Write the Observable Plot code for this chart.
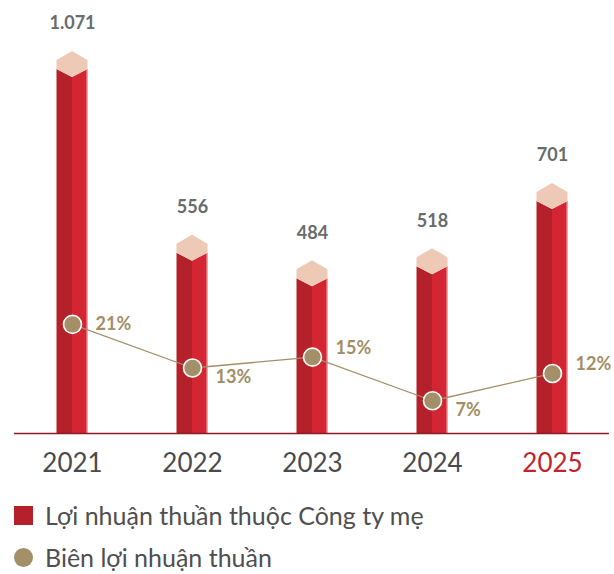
<!DOCTYPE html>
<html>
<head>
<meta charset="utf-8">
<script src="https://cdn.jsdelivr.net/npm/d3@7"></script>
<script src="https://cdn.jsdelivr.net/npm/@observablehq/plot@0.6"></script>
<style>
  html, body { margin: 0; padding: 0; background: #fff; }
  body { width: 614px; font-family: Lato, "Open Sans", sans-serif; }
  .legend { margin-top: 4px; }
  .row { display: flex; align-items: center; height: 42px; font-size: 25px; color: #4f4f4f; }
  .sw { width: 19px; height: 19px; margin-left: 14px; margin-right: 12px; flex: none; }
  .sq { background: #b5212b; }
  .ci { background: #a38f68; border-radius: 50%; }
</style>
</head>
<body>
<div id="chart"></div>
<div class="legend">
  <div class="row"><span class="sw sq"></span><span>Lợi nhuận thuần thuộc Công ty mẹ</span></div>
  <div class="row"><span class="sw ci"></span><span>Biên lợi nhuận thuần</span></div>
</div>
<script>
// ---- data ----
const years = ["2021", "2022", "2023", "2024", "2025"];
const profit = [1071, 556, 484, 518, 701];          // Lợi nhuận thuần thuộc Công ty mẹ
const margin = [21, 13, 15, 7, 12];                  // Biên lợi nhuận thuần (%)
const highlightYear = "2025";

const rows = years.map((y, i) => ({year: y, value: profit[i], margin: margin[i], i}));
const maxVal = d3.max(profit);

// secondary (percent) axis mapped onto the primary value domain
const pctToValue = d3.scaleLinear().domain([1, 71]).range([0, maxVal]);

const viFmt = d3.formatLocale({decimal: ",", thousands: ".", grouping: [3], currency: ["", ""]}).format(",");

const C = {
  left: "#b5212b", right: "#d42533", top: "#eecab6", edge: "#f0b3b8",
  base: "#8b1d24", dot: "#a38f68", pct: "#a28d66", val: "#686c6c",
  tick: "#4a4a4a", hi: "#c0232e"
};

function bars3d(index, scales) {
  const g = d3.create("svg:g");
  const hw = 15.5;
  const base = scales.y(0);
  for (const d of rows) {
    const cx = scales.x(d.year);
    const t = scales.y(d.value);
    g.append("path")
      .attr("d", `M${cx - hw},${t + 18}L${cx},${t + 26}L${cx},${base}L${cx - hw},${base}Z`)
      .attr("fill", C.left);
    g.append("path")
      .attr("d", `M${cx},${t + 26}L${cx + hw},${t + 18}L${cx + hw},${base}L${cx},${base}Z`)
      .attr("fill", C.right);
    g.append("line")
      .attr("x1", cx + hw - 0.5).attr("x2", cx + hw - 0.5)
      .attr("y1", t + 18).attr("y2", base)
      .attr("stroke", C.edge).attr("stroke-width", 1);
    g.append("path")
      .attr("d", `M${cx},${t}L${cx + hw},${t + 9}L${cx + hw},${t + 18}L${cx},${t + 26}L${cx - hw},${t + 18}L${cx - hw},${t + 9}Z`)
      .attr("fill", C.top);
  }
  return g.node();
}

// label above if rising vs previous, below if falling, level for first
const dir = (d) => d.i === 0 ? 0 : (d.margin > margin[d.i - 1] ? -1 : 1);
const pctText = (sign) => Plot.text(rows.filter(d => dir(d) === sign), {
  x: "year", y: d => pctToValue(d.margin), text: d => d.margin + "%",
  dx: 23, dy: sign * 9, textAnchor: "start", fill: C.pct, fontSize: 18, fontWeight: "bold"
});

const chart = Plot.plot({
  width: 614,
  height: 490,
  marginLeft: 10,
  marginRight: 0,
  marginTop: 51,
  marginBottom: 57,
  style: {fontFamily: "Lato, 'Open Sans', sans-serif", background: "#fff"},
  x: {type: "point", domain: years, padding: 0.5, axis: null},
  y: {domain: [0, maxVal], axis: null},
  marks: [
    bars3d,
    Plot.ruleY([0], {stroke: C.base, strokeWidth: 1.5, insetLeft: 4, insetRight: 5}),
    Plot.line(rows, {x: "year", y: d => pctToValue(d.margin), stroke: C.dot, strokeWidth: 1.3}),
    Plot.dot(rows, {x: "year", y: d => pctToValue(d.margin), r: 9, fill: C.dot, stroke: "#fff", strokeWidth: 1.6}),
    Plot.text(rows, {x: "year", y: "value", text: d => viFmt(d.value), dy: -28, fill: C.val, fontSize: 18, fontWeight: "bold"}),
    pctText(0), pctText(-1), pctText(1),
    Plot.text(rows, {x: "year", frameAnchor: "bottom", text: "year", dy: 38, fontSize: 26, fill: d => d.year === highlightYear ? C.hi : C.tick})
  ]
});
document.getElementById("chart").appendChild(chart);
</script>
</body>
</html>
